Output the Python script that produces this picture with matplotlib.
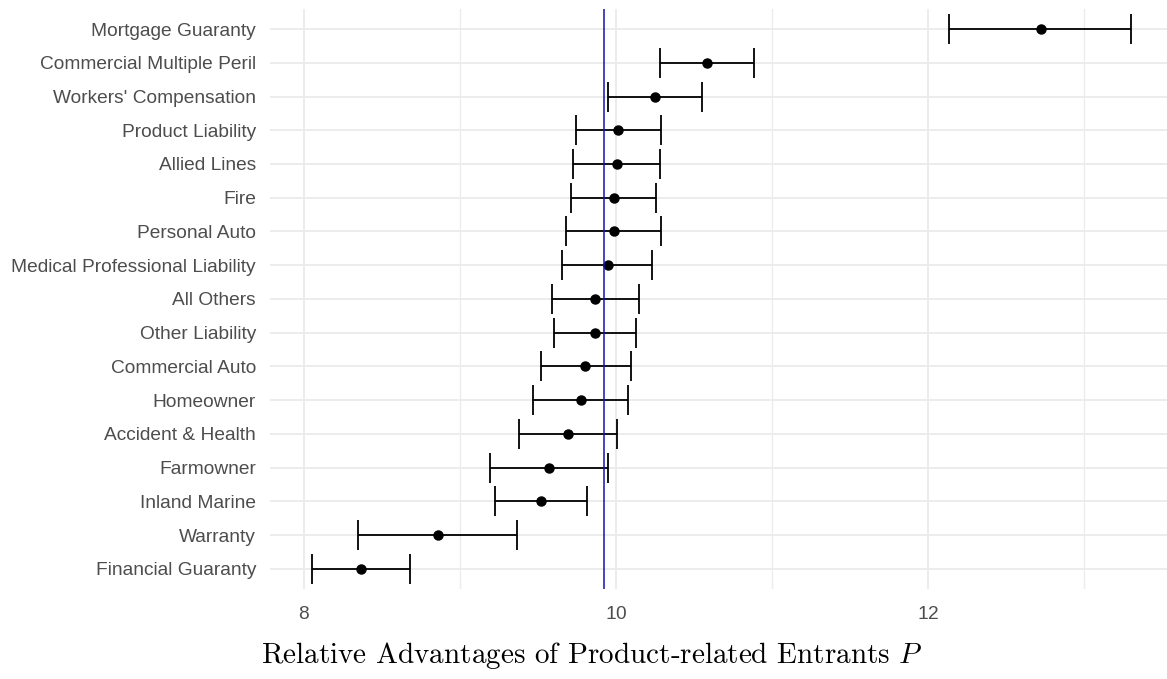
import numpy as np
import matplotlib
matplotlib.use("Agg")
import matplotlib.pyplot as plt

plt.rcParams['mathtext.fontset'] = 'cm'
plt.rcParams['axes.formatter.use_mathtext'] = True

# lines of business, bottom to top
lines = ["Financial Guaranty", "Warranty", "Inland Marine", "Farmowner",
         "Accident & Health", "Homeowner", "Commercial Auto", "Other Liability",
         "All Others", "Medical Professional Liability", "Personal Auto", "Fire",
         "Allied Lines", "Product Liability", "Workers' Compensation",
         "Commercial Multiple Peril", "Mortgage Guaranty"]
estimate = [8.363, 8.861, 9.519, 9.571, 9.692, 9.774, 9.804, 9.865, 9.865,
            9.947, 9.987, 9.987, 10.004, 10.015, 10.25, 10.585, 12.722]
lower = [8.051, 8.344, 9.226, 9.194, 9.378, 9.47, 9.521, 9.601, 9.592,
         9.652, 9.682, 9.712, 9.722, 9.741, 9.947, 10.28, 12.135]
upper = [8.679, 9.368, 9.814, 9.947, 10.006, 10.077, 10.096, 10.128, 10.147,
         10.229, 10.29, 10.259, 10.28, 10.29, 10.553, 10.887, 13.30]
overall = 9.925

est = np.array(estimate)
err = np.vstack([est - np.array(lower), np.array(upper) - est])
y = np.arange(len(lines))

fig = plt.figure(figsize=(11.67, 6.79), dpi=100)
ax = fig.add_axes([270 / 1167, 1 - 589 / 679, 1 - 270 / 1167, (589 - 8.8) / 679])

ax.errorbar(est, y, xerr=err, fmt='o', color='black', ms=6.5,
            elinewidth=1.3, capsize=11, capthick=1.3, zorder=3)
ax.axvline(overall, color='#1212B0', lw=1.1, zorder=4)

ax.set_xlim(7.782, 13.532)
ax.set_ylim(-0.6, len(lines) - 0.4)
ax.set_xticks([8, 10, 12])
ax.set_xticks([9, 11, 13], minor=True)
ax.set_yticks(y)
ax.set_yticklabels(lines)

for s in ax.spines.values():
    s.set_visible(False)
ax.grid(True, which='major', color='#EBEBEB', lw=1.3)
ax.grid(True, which='minor', axis='x', color='#EBEBEB', lw=1.0)
ax.set_axisbelow(True)
ax.tick_params(which='both', length=0)
ax.tick_params(axis='y', pad=10, labelsize=13.8, labelcolor='#4D4D4D')
ax.tick_params(axis='x', pad=12, labelsize=13.8, labelcolor='#4D4D4D')
for t in ax.get_xticklabels() + ax.get_yticklabels():
    t.set_fontfamily('Liberation Sans')

fig.text(592 / 1167, 1 - 663 / 679, "Relative Advantages of Product-related Entrants $P$",
         ha='center', va='baseline', fontsize=21, fontfamily='cmr10')

fig.savefig("out.png", dpi=100)
